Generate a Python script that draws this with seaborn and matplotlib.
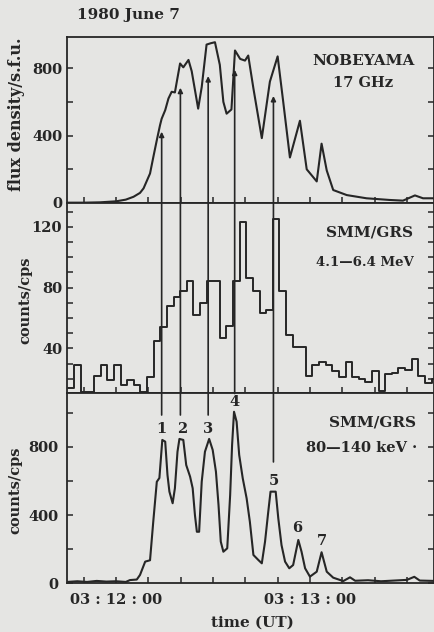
import numpy as np
import seaborn as sns
import matplotlib.pyplot as plt
from matplotlib.patches import ConnectionPatch

# time axis: seconds after 03:12:00 UT
radio_t = [-15.2, -10, -5, 0, 3, 5.4, 7.4, 8.5, 10.5, 11.6, 12.6, 13.6, 14.1, 15.2, 16.2,
           17.2, 18.2, 18.8, 19.8, 20.8, 22.4, 23.4, 25.4, 26.5, 28.0, 29.3, 30.6, 32.1,
           33.2, 34.2, 35.7, 36.8, 38.4, 39.9, 40.9, 42.5, 45.1, 47.6, 50.0, 51.7, 53.8,
           56.9, 59.0, 62.1, 63.6, 65.2, 67.2, 71.4, 77.5, 84.7, 88.8, 92.5, 95.0, 98.4]
radio_flux = [2, 2, 4, 10, 20, 37, 60, 87, 175, 280, 373, 462, 500, 551, 620,
              660, 656, 721, 828, 805, 849, 782, 560, 688, 940, 948, 954, 820,
              600, 530, 555, 905, 855, 845, 875, 680, 385, 720, 870, 605, 270,
              488, 200, 128, 352, 193, 77, 47, 28, 18, 14, 45, 28, 28]

gamma_start = -15.0
gamma_bin = 2.048
gamma_counts = [14, 29, 11, 11, 22, 29, 19, 29, 16, 19, 16, 11, 21, 45, 54, 68, 74, 78,
                84, 62, 70, 84, 84, 47, 55, 84, 123, 86, 78, 63, 65, 125, 78, 49, 41, 41,
                22, 29, 31, 29, 25, 21, 31, 21, 20, 18, 25, 12, 23, 24, 27, 26, 33, 22,
                17, 20]

hxr_t = [-15.2, -12, -9, -6, -3, 0, 3, 4.3, 6.4, 7.4, 9.0, 10.5, 11.5, 12.6, 13.4, 14.3,
         15.2, 15.9, 16.5, 17.5, 18.2, 19.0, 19.6, 20.8, 21.7, 22.9, 23.7, 24.4, 25.0,
         25.7, 26.5, 27.5, 28.8, 29.9, 30.9, 31.7, 32.4, 33.2, 34.4, 35.3, 35.9, 36.5,
         37.3, 38.1, 39.2, 40.4, 41.4, 42.5, 44.0, 45.1, 46.1, 47.1, 47.8, 49.4, 50.2,
         51.2, 52.3, 53.6, 54.8, 56.4, 57.4, 58.5, 60.0, 62.1, 63.6, 65.2, 67.2, 70.3,
         72.4, 74, 78, 82, 86, 90, 92.3, 94, 98.4]
hxr_counts = [8, 12, 8, 14, 10, 12, 8, 19, 22, 49, 127, 135, 361, 595, 617, 840,
              830, 635, 537, 469, 557, 771, 846, 840, 693, 625, 557, 400, 302,
              302, 595, 771, 846, 781, 654, 459, 244, 185, 205, 517, 810, 1005,
              947, 752, 615, 498, 361, 166, 137, 117, 244, 420, 537, 537, 381,
              224, 127, 88, 107, 254, 185, 88, 39, 68, 182, 68, 33, 13,
              35, 15, 18, 12, 16, 20, 38, 16, 14]

# arrows: time, tip in radio panel, lower end in hard x-ray panel
arrow_t = [14.1, 19.9, 28.5, 36.7, 48.7]
arrow_tip = [423, 684, 753, 791, 635]
arrow_end = [986, 986, 986, 1112, 711]

peak_names = ["1", "2", "3", "4", "5", "6", "7"]
peak_t = [14.1, 20.4, 28.5, 36.5, 48.7, 56.2, 63.8]
peak_y = [905, 905, 905, 1062, 600, 325, 250]

paper = "#e5e5e3"
ink = "#262626"

sns.set_theme(style="ticks")
plt.rcParams["font.family"] = "DejaVu Serif"
plt.rcParams["font.weight"] = "bold"
plt.rcParams["axes.edgecolor"] = ink
plt.rcParams["text.color"] = ink
plt.rcParams["xtick.color"] = ink
plt.rcParams["ytick.color"] = ink

W, H = 435, 632
fig = plt.figure(figsize=(W / 100, H / 100), dpi=100, facecolor=paper)


def box(top, bottom):
    return [67 / W, 1 - bottom / H, 367 / W, (bottom - top) / H]


ax1 = fig.add_axes(box(37, 203))
ax2 = fig.add_axes(box(203, 393))
ax3 = fig.add_axes(box(393, 583.3))

sns.lineplot(x=radio_t, y=radio_flux, ax=ax1, color=ink, lw=1.5, sort=False)

gamma_edges = gamma_start + gamma_bin * np.arange(len(gamma_counts) + 1)
sns.lineplot(x=gamma_edges, y=gamma_counts + [gamma_counts[-1]], ax=ax2, color=ink,
             lw=1.4, sort=False, drawstyle="steps-post")

sns.lineplot(x=hxr_t, y=hxr_counts, ax=ax3, color=ink, lw=1.5, sort=False)

ax1.set_ylim(0, 985)
ax2.set_ylim(10.6, 135.6)
ax3.set_ylim(0, 1115)

for ax in (ax1, ax2, ax3):
    ax.set_facecolor(paper)
    ax.set_xlim(-15.2, 98.4)
    ax.set_xlabel("")
    ax.set_ylabel("")
    for s in ax.spines.values():
        s.set_linewidth(1.3)
        s.set_visible(True)
    ax.tick_params(direction="in", length=4, width=1.1, labelsize=10.5,
                   left=True, right=True, bottom=True, top=False)
    ax.set_xticks(np.arange(-10, 98, 10))
    ax.set_xticklabels([])

ax1.set_yticks([0, 200, 400, 600, 800])
ax1.set_yticklabels(["0", "", "400", "", "800"])
ax2.set_yticks(np.arange(20, 131, 10))
ax2.set_yticklabels([str(v) if v % 40 == 0 else "" for v in range(20, 131, 10)])
ax3.set_yticks([0, 200, 400, 600, 800, 1000])
ax3.set_yticklabels(["0", "", "400", "", "800", ""])
ax3.tick_params(axis="y", pad=6)
ax3.set_xticks(np.arange(-10, 98, 10))
ax3.set_xticklabels(["03 : 12 : 00" if v == 0 else "03 : 13 : 00" if v == 60 else ""
                     for v in range(-10, 98, 10)], fontsize=10.5)
ax3.tick_params(axis="x", pad=7)

# arrows connecting hard x-ray peaks to the radio curve
for t, tip, end in zip(arrow_t, arrow_tip, arrow_end):
    con = ConnectionPatch(xyA=(t, end), coordsA=ax3.transData,
                          xyB=(t, tip), coordsB=ax1.transData,
                          arrowstyle="-|>", mutation_scale=7, color=ink, lw=1.2)
    fig.add_artist(con)

for name, t, y in zip(peak_names, peak_t, peak_y):
    ax3.text(t, y, name, ha="center", va="center", fontsize=10.5)

fig.text(77 / W, 1 - 15 / H, "1980 June 7", fontsize=11, va="center", ha="left")
fig.text(363 / W, 1 - 61 / H, "NOBEYAMA", fontsize=11, ha="center", va="center")
fig.text(363 / W, 1 - 83 / H, "17 GHz", fontsize=10.5, ha="center", va="center")
fig.text(370 / W, 1 - 233 / H, "SMM/GRS", fontsize=11, ha="center", va="center")
fig.text(365 / W, 1 - 263 / H, "4.1—6.4 MeV", fontsize=9.5, ha="center", va="center")
fig.text(373 / W, 1 - 422 / H, "SMM/GRS", fontsize=11, ha="center", va="center")
fig.text(362 / W, 1 - 448 / H, "80—140 keV ·", fontsize=10.5, ha="center", va="center")

fig.text(17 / W, 1 - 114 / H, "flux density/s.f.u.", rotation=90, fontsize=11.5,
         ha="center", va="center")
fig.text(25 / W, 1 - 300 / H, "counts/cps", rotation=90, fontsize=10.5,
         ha="center", va="center")
fig.text(15 / W, 1 - 490 / H, "counts/cps", rotation=90, fontsize=10.5,
         ha="center", va="center")
fig.text(252 / W, 1 - 623 / H, "time (UT)", fontsize=11, ha="center", va="center")

fig.savefig("out.png", dpi=100, facecolor=paper)
